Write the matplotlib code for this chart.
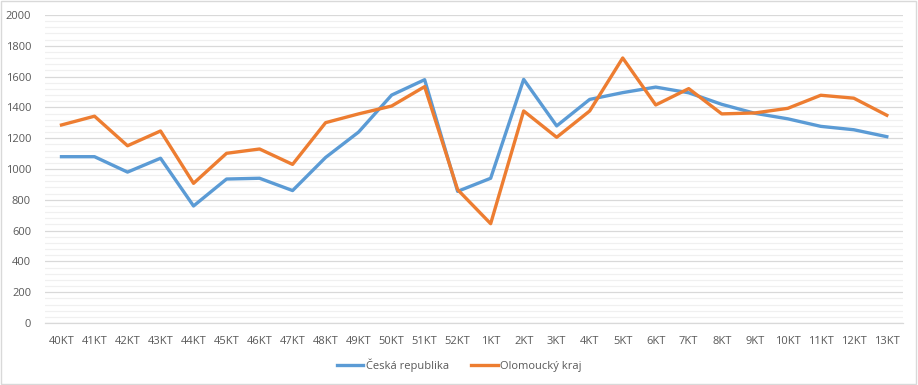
import matplotlib.pyplot as plt
import numpy as np
from matplotlib.ticker import MultipleLocator

# týdny (kalendářní týdny)
weeks = ['40KT', '41KT', '42KT', '43KT', '44KT', '45KT', '46KT', '47KT', '48KT',
         '49KT', '50KT', '51KT', '52KT', '1KT', '2KT', '3KT', '4KT', '5KT', '6KT',
         '7KT', '8KT', '9KT', '10KT', '11KT', '12KT', '13KT']

cr = [1080, 1080, 980, 1070, 760, 935, 940, 860, 1075, 1240, 1480, 1580, 855,
      940, 1582, 1280, 1452, 1496, 1532, 1495, 1420, 1362, 1326, 1277, 1255, 1210]

olomouc = [1286, 1343, 1151, 1247, 907, 1102, 1130, 1030, 1301, 1358, 1409, 1535,
           866, 645, 1377, 1206, 1377, 1721, 1416, 1522, 1358, 1364, 1394, 1479,
           1460, 1349]

plt.rcParams['font.family'] = ['Open Sans', 'DejaVu Sans']

fig = plt.figure(figsize=(9.18, 3.85), dpi=100)
ax = fig.add_axes([0.049, 0.161, 0.935, 0.8])

x = np.arange(len(weeks))
ax.plot(x, cr, color='#5B9BD5', lw=2.4, label='Česká republika', solid_joinstyle='round')
ax.plot(x, olomouc, color='#ED7D31', lw=2.4, label='Olomoucký kraj', solid_joinstyle='round')

ax.set_xlim(-0.5, len(weeks) - 0.5)
ax.set_ylim(0, 2000)
ax.set_xticks(x)
ax.set_xticklabels(weeks)
ax.yaxis.set_major_locator(MultipleLocator(200))
ax.yaxis.set_minor_locator(MultipleLocator(40))

ax.grid(axis='y', which='major', color='#D9D9D9', lw=0.9)
ax.grid(axis='y', which='minor', color='#F0F0F0', lw=0.9)
ax.set_axisbelow(True)

for s in ['top', 'right', 'left']:
    ax.spines[s].set_visible(False)
ax.spines['bottom'].set_color('#D9D9D9')
ax.spines['bottom'].set_linewidth(0.9)

ax.tick_params(axis='both', which='both', length=0, labelsize=8, colors='#595959')
ax.tick_params(axis='x', pad=9)
ax.tick_params(axis='y', pad=10)

leg = fig.legend(loc='center', bbox_to_anchor=(0.5, 0.052), ncol=2, frameon=False,
                 fontsize=8, handlelength=2.4, handletextpad=0.2, columnspacing=2.0)
for t in leg.get_texts():
    t.set_color('#595959')

# rámeček grafu
fig.patches.append(plt.Rectangle((0.001, 0.002), 0.997, 0.995, transform=fig.transFigure,
                                 fill=False, edgecolor='#D9D9D9', lw=1))

fig.savefig('out.png', dpi=100)
